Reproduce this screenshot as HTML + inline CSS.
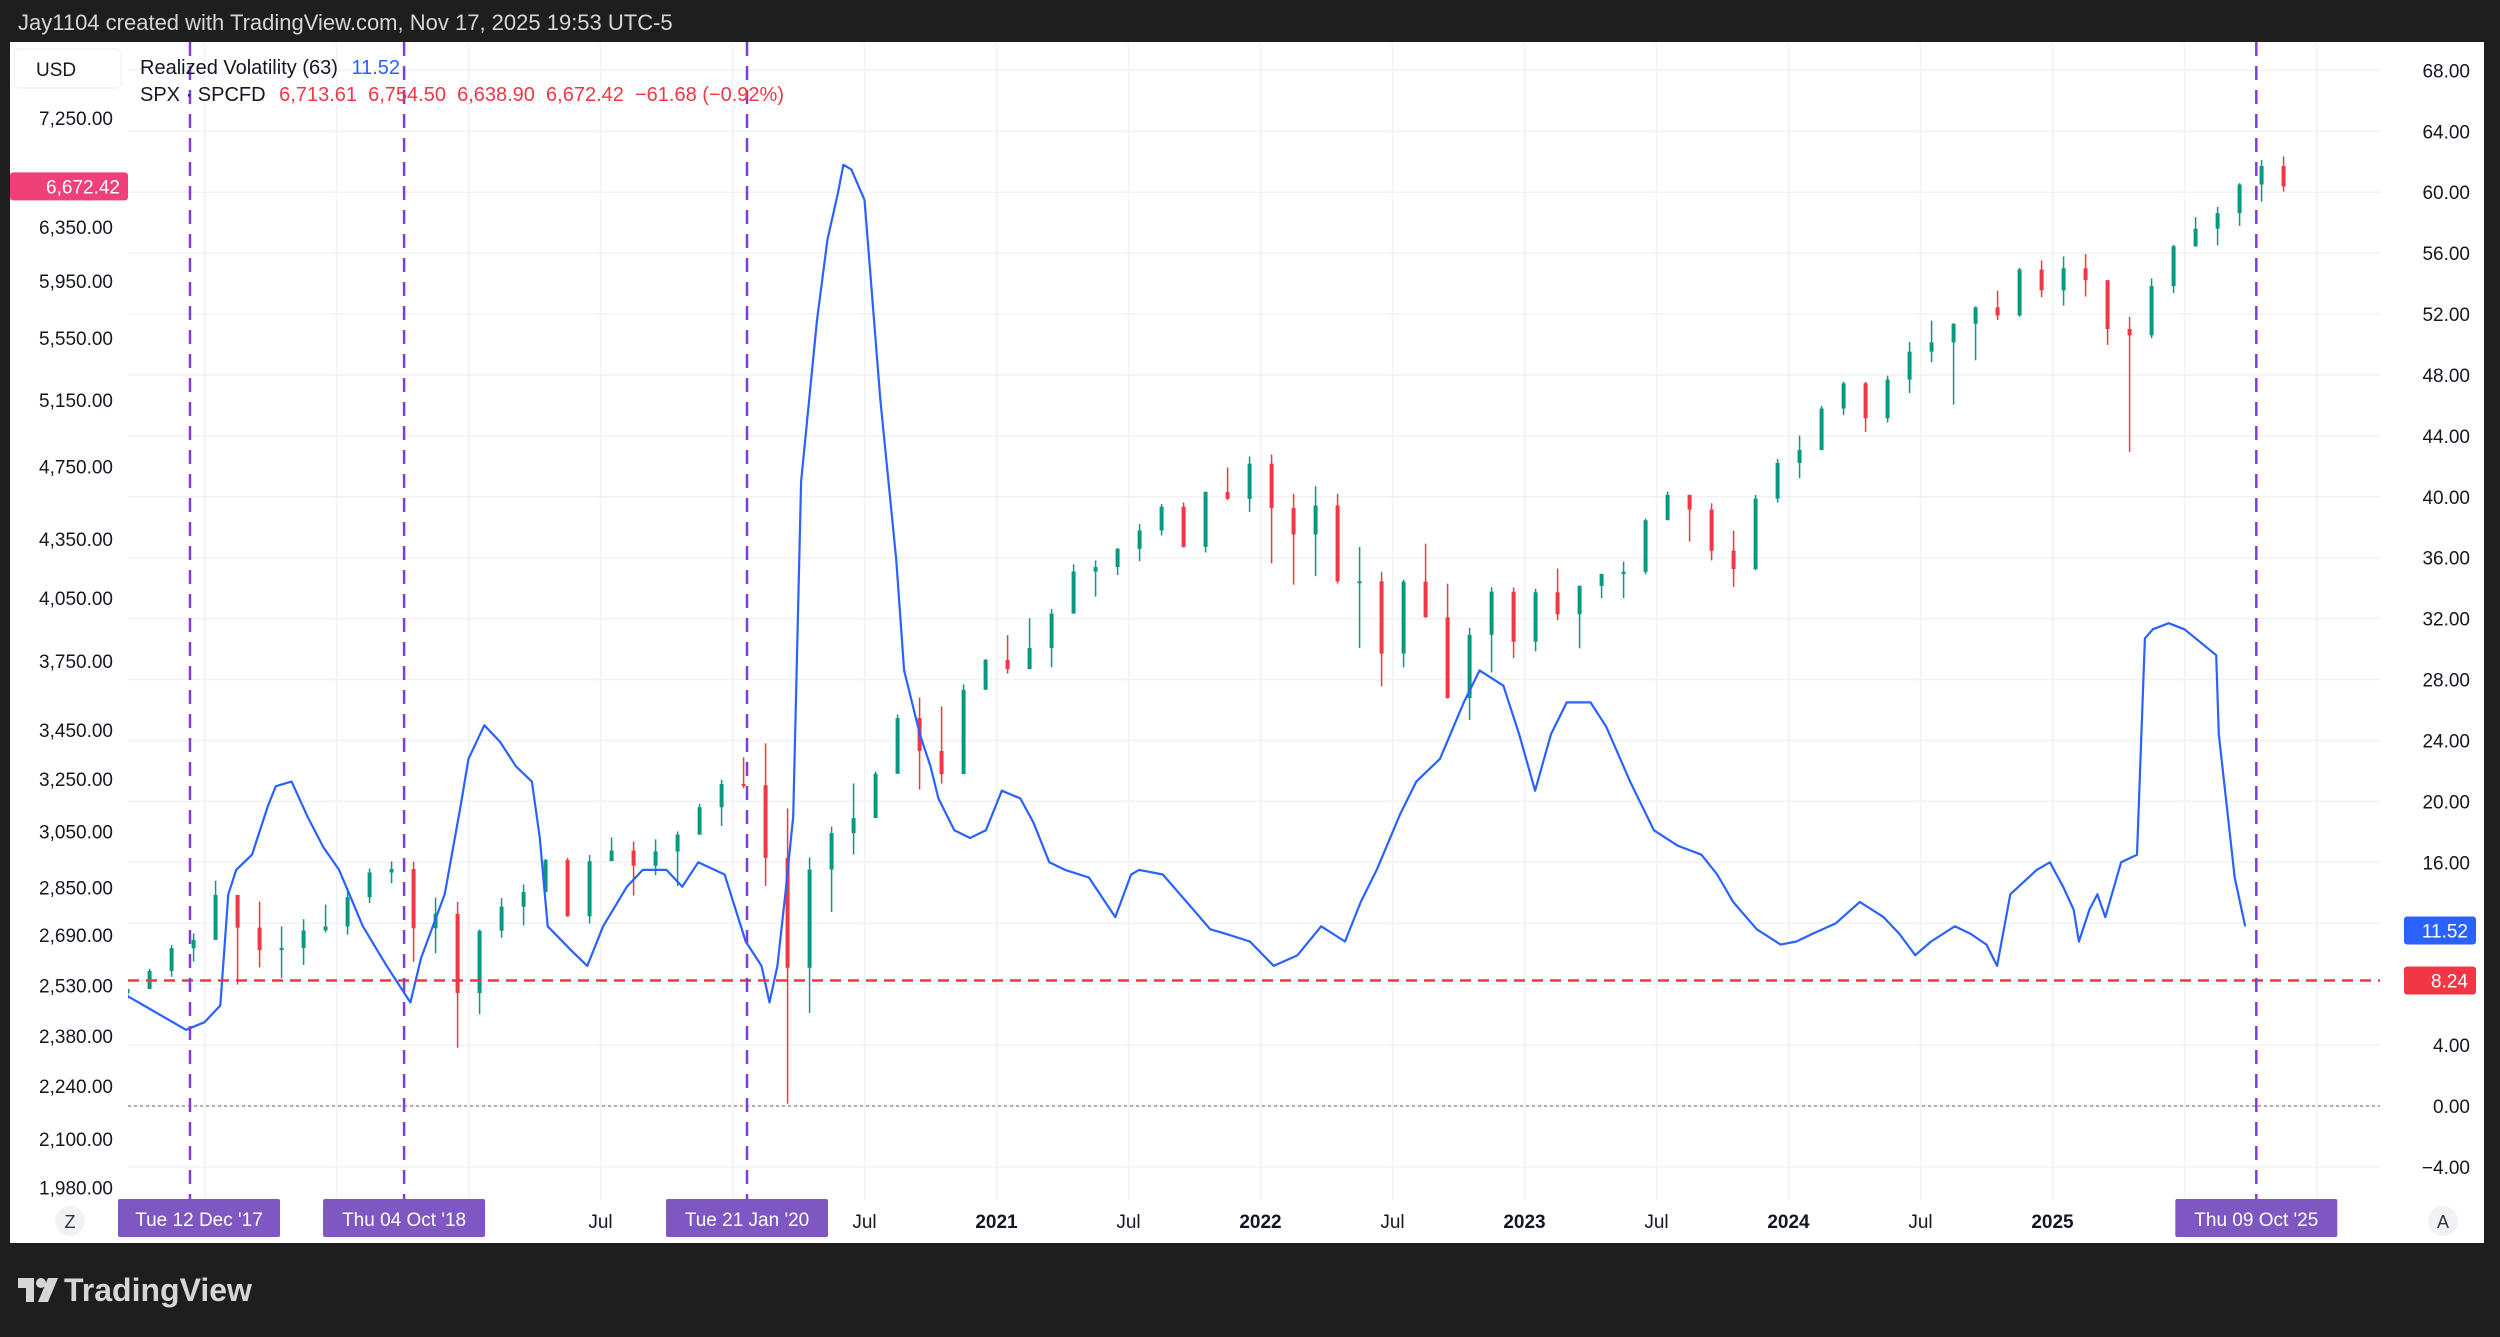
<!DOCTYPE html>
<html><head><meta charset="utf-8"><style>
html,body{margin:0;padding:0;background:#1e1e1e;width:2500px;height:1337px;overflow:hidden;font-family:"Liberation Sans",sans-serif}
svg text{font-family:"Liberation Sans",sans-serif}
</style></head><body>
<svg id="c" width="2500" height="1337" xmlns="http://www.w3.org/2000/svg">
<rect x="0" y="0" width="2500" height="1337" fill="#1e1e1e"/>
<text x="18" y="30" font-size="22" fill="#d6d6d6">Jay1104 created with TradingView.com, Nov 17, 2025 19:53 UTC-5</text>
<rect x="10" y="42" width="2474" height="1201" fill="#ffffff"/>
<g id="grid"></g>
<g id="marks"></g>
<g id="axes"></g>
<rect x="14" y="49" width="107" height="39" rx="5" fill="#fff" stroke="#eee"/>
<text x="36" y="76" font-size="19" fill="#131722">USD</text>
<text x="140" y="74" font-size="20" fill="#131722">Realized Volatility (63) <tspan fill="#2962ff" dx="8">11.52</tspan></text>
<text x="140" y="101" font-size="20" fill="#131722" xml:space="preserve">SPX · SPCFD <tspan fill="#f23645" dx="8">6,713.61  6,754.50  6,638.90  6,672.42  −61.68 (−0.92%)</tspan></text>
<g>
<rect x="18" y="1278" width="16" height="10" fill="#d6d6d6"/><rect x="26" y="1278" width="8" height="24" fill="#d6d6d6"/>
<circle cx="41" cy="1283" r="5" fill="#d6d6d6"/><polygon points="48,1278 58,1278 48,1302 38,1302" fill="#d6d6d6"/>
<text x="64" y="1301" font-size="32" font-weight="bold" fill="#d6d6d6">TradingView</text>
</g>
</svg>
<script>
const spxCloses=[2519,2575,2647,2674,
2824,2714,2641,2648,2705,2718,2816,2902,2914,2712,2760,2507,
2704,2784,2834,2946,2752,2942,2980,2926,2977,3038,3141,3231,
3226,2954,2585,2912,3044,3100,3271,3500,3363,3270,3622,3756,
3714,3811,3973,4181,4204,4298,4395,4523,4308,4605,4567,4766,
4516,4374,4530,4132,4132,3785,4130,3955,3586,3872,4080,3840,
4077,3970,4109,4169,4180,4450,4589,4508,4288,4194,4568,4770,
4846,5096,5254,5036,5278,5460,5522,5648,5762,5705,6032,5882,
6041,5955,5612,5569,5912,6205,6339,6460,6688,6840,6672];
const spxHighs=[2520,2582,2657,2695,
2873,2789,2801,2718,2742,2791,2848,2916,2941,2940,2815,2800,
2708,2813,2860,2950,2954,2964,3028,3013,3021,3050,3154,3248,
3337,3394,3136,2955,3068,3233,3280,3515,3588,3550,3646,3760,
3870,3951,3995,4218,4238,4302,4430,4538,4546,4608,4744,4808,
4819,4595,4637,4594,4308,4178,4140,4325,4120,3905,4102,4101,
4095,4196,4111,4170,4232,4458,4608,4590,4542,4394,4588,4794,
4932,5112,5265,5263,5303,5524,5670,5652,5768,5879,6045,6099,
6129,6147,5852,5695,5968,6215,6428,6509,6699,6890,6920];
const spxLows=[2488,2520,2557,2605,
2682,2533,2586,2553,2594,2698,2691,2796,2864,2604,2631,2346,
2443,2681,2722,2848,2750,2728,2944,2822,2892,2855,3050,3070,
3214,2855,2192,2447,2766,2966,3101,3280,3209,3233,3279,3633,
3694,3725,3723,3980,4056,4164,4234,4368,4305,4279,4561,4495,
4223,4115,4158,4121,3811,3637,3722,3955,3584,3492,3699,3765,
3795,3941,3809,4048,4048,4167,4450,4336,4238,4104,4187,4546,
4682,4844,5057,4953,5011,5192,5391,5120,5403,5674,5696,5833,
5773,5838,5505,4835,5550,5862,6201,6212,6360,6550,6631];
const spxStart=2017.667;
const volDates=[2017.70,2017.79,2017.88,2017.93,2018.0,2018.06,2018.09,2018.12,2018.18,2018.24,2018.27,2018.33,2018.39,2018.45,2018.51,2018.60,2018.69,2018.75,2018.78,2018.82,2018.91,2018.97,2019.00,2019.06,2019.12,2019.18,2019.24,2019.27,2019.30,2019.39,2019.45,2019.51,2019.60,2019.66,2019.75,2019.81,2019.87,2019.97,2020.05,2020.11,2020.14,2020.17,2020.20,2020.23,2020.26,2020.32,2020.36,2020.40,2020.42,2020.45,2020.50,2020.56,2020.62,2020.65,2020.71,2020.75,2020.78,2020.84,2020.90,2020.96,2021.02,2021.09,2021.14,2021.20,2021.26,2021.35,2021.45,2021.51,2021.54,2021.63,2021.72,2021.81,2021.87,2021.96,2022.05,2022.14,2022.23,2022.32,2022.38,2022.44,2022.53,2022.59,2022.68,2022.77,2022.83,2022.92,2022.98,2023.04,2023.10,2023.16,2023.25,2023.31,2023.40,2023.49,2023.58,2023.67,2023.73,2023.79,2023.88,2023.97,2024.03,2024.09,2024.18,2024.27,2024.36,2024.42,2024.48,2024.54,2024.63,2024.69,2024.75,2024.79,2024.84,2024.94,2024.99,2025.04,2025.08,2025.10,2025.14,2025.17,2025.20,2025.26,2025.32,2025.35,2025.38,2025.44,2025.50,2025.62,2025.63,2025.69,2025.73];
const volValues=[7.3,6.4,5.5,5.0,5.5,6.6,13.9,15.5,16.5,19.7,21.0,21.3,19.0,17.0,15.5,11.8,9.2,7.6,6.8,9.7,13.9,19.7,22.8,25.0,23.9,22.3,21.3,17.6,11.8,10.2,9.2,11.8,14.4,15.5,15.5,14.4,16.0,15.2,10.8,9.2,6.8,9.2,13.9,19.0,41.0,51.6,56.9,60.0,61.8,61.5,59.5,46.4,35.9,28.6,24.4,22.3,20.2,18.1,17.6,18.1,20.7,20.2,18.6,16.0,15.5,15.0,12.4,15.2,15.5,15.2,13.4,11.6,11.3,10.8,9.2,9.9,11.8,10.8,13.4,15.5,19.2,21.3,22.8,26.5,28.6,27.6,24.4,20.7,24.4,26.5,26.5,24.9,21.3,18.1,17.1,16.5,15.2,13.4,11.6,10.6,10.8,11.3,12.0,13.4,12.4,11.3,9.9,10.8,11.8,11.3,10.6,9.2,13.9,15.5,16.0,14.4,12.9,10.8,12.9,13.9,12.4,16.0,16.5,30.7,31.3,31.7,31.3,29.6,24.4,15.0,11.8,10.8,9.7,8.5,10.3,11.0,11.52];
const leftTicks=[7250,6350,5950,5550,5150,4750,4350,4050,3750,3450,3250,3050,2850,2690,2530,2380,2240,2100,1980];
const rightTicks=[68,64,60,56,52,48,44,40,36,32,28,24,20,16,12,8,4,0,-4];
const timeTicks=[[2019.5,'Jul'],[2020.5,'Jul'],[2021,'2021'],[2021.5,'Jul'],[2022,'2022'],[2022.5,'Jul'],[2023,'2023'],[2023.5,'Jul'],[2024,'2024'],[2024.5,'Jul'],[2025,'2025']];
const gridTimes=[2018,2018.5,2019,2019.5,2020,2020.5,2021,2021.5,2022,2022.5,2023,2023.5,2024,2024.5,2025,2025.5,2026];
const eventDates=[2017.945,2018.756,2020.055,2025.772];
const eventLabels=["Tue 12 Dec '17","Thu 04 Oct '18","Tue 21 Jan '20","Thu 09 Oct '25"];
const supportLevel=8.24;
const lastVol=11.52, lastPrice=6672.42;

const NS='http://www.w3.org/2000/svg';
const PL=128,PR=2380,PT=42,PB=1199;
const X=t=>996.5+(t-2021)*264;
const YP=p=>118+(Math.log(7250)-Math.log(p))*824;
const YV=v=>1106-v*15.23;
function mk(tag,attrs,parent){const e=document.createElementNS(NS,tag);for(const k in attrs)e.setAttribute(k,attrs[k]);parent.appendChild(e);return e;}
const grid=document.getElementById('grid'),marks=document.getElementById('marks'),axes=document.getElementById('axes');
const svg=document.getElementById('c');
let cp=mk('clipPath',{id:'clip'},svg);mk('rect',{x:PL,y:PT,width:PR-PL,height:PB-PT},cp);
marks.setAttribute('clip-path','url(#clip)');

rightTicks.forEach(v=>{
  const l=mk('line',{x1:PL,x2:PR,y1:YV(v),y2:YV(v),stroke:'#f0f2f5','stroke-width':1.5},grid);
  
  const t=mk('text',{x:2470,y:YV(v)+7,'font-size':19,fill:'#131722','text-anchor':'end'},axes);
  t.textContent=(v<0?'−'+Math.abs(v).toFixed(2):v.toFixed(2));
  
});
gridTimes.forEach(tm=>{
  const l=mk('line',{x1:X(tm),x2:X(tm),y1:PT,y2:PB,stroke:'#f0f2f5','stroke-width':1.5},grid);
  
});
leftTicks.forEach(p=>{
  const t=mk('text',{x:113,y:YP(p)+7,'font-size':19,fill:'#131722','text-anchor':'end'},axes);
  t.textContent=p.toLocaleString('en-US',{minimumFractionDigits:2,maximumFractionDigits:2});
  
});
timeTicks.forEach(([tm,lab])=>{
  const t=mk('text',{x:X(tm),y:1228,'font-size':19,fill:'#131722','text-anchor':'middle','font-weight':/^\d/.test(lab)?'bold':'normal'},axes);
  t.textContent=lab;
  
});
let z=mk('line',{x1:PL,x2:PR,y1:YV(0),y2:YV(0),stroke:'#9598a1','stroke-width':1.5,'stroke-dasharray':'3 3'},marks);

const mw=264/12;
spxCloses.forEach((c,i)=>{
  const o=i>0?spxCloses[i-1]:c*0.995;
  const x=X(spxStart+i/12)+mw/2;
  const col=c>=o?'#089981':'#f23645';
  const w=mk('line',{x1:x,x2:x,y1:YP(spxHighs[i]),y2:YP(spxLows[i]),stroke:col,'stroke-width':1.5},marks);
  
  const y1=YP(Math.max(o,c)),y2=YP(Math.min(o,c));
  const b=mk('rect',{x:x-2,y:y1,width:4,height:Math.max(2,y2-y1),fill:col},marks);
  
});
const pts=volDates.map((d,i)=>X(d).toFixed(1)+','+YV(volValues[i]).toFixed(1)).join(' ');
let vl=mk('polyline',{points:pts,fill:'none',stroke:'#2962ff','stroke-width':2.2,'stroke-linejoin':'round'},marks);

let sl=mk('line',{x1:PL,x2:PR,y1:YV(supportLevel),y2:YV(supportLevel),stroke:'#f23645','stroke-width':2.5,'stroke-dasharray':'11 7'},axes);

eventDates.forEach((d,i)=>{
  const x=X(d);
  const l=mk('line',{x1:x,x2:x,y1:PT,y2:PB,stroke:'#7e3fd4','stroke-width':2.5,'stroke-dasharray':'14 10'},axes);
  
  let bx=x-81; if(bx<PL-10) bx=PL-10;
  const r=mk('rect',{x:bx,y:1199,width:162,height:38,rx:2,fill:'#7e57c2'},axes);
  
  const t=mk('text',{x:bx+81,y:1226,'font-size':19,fill:'#fff','text-anchor':'middle'},axes);
  t.textContent=eventLabels[i];
  
});
function badge(x,y,w,col,txt,name){
  const r=mk('rect',{x:x,y:y-14,width:w,height:28,rx:3,fill:col},axes);
  
  const t=mk('text',{x:x+w-8,y:y+7,'font-size':19,fill:'#fff','text-anchor':'end'},axes);
  t.textContent=txt;
  
}
badge(2404,YV(lastVol),72,'#2962ff',lastVol.toFixed(2),'last-volatility-badge');
badge(2404,YV(supportLevel),72,'#f23645',supportLevel.toFixed(2),'support-level-badge');
badge(10,YP(lastPrice),118,'#f0407a',lastPrice.toLocaleString('en-US',{minimumFractionDigits:2}),'last-price-badge');
[[70,'Z','zoom-button'],[2443,'A','auto-scale-button']].forEach(([x,l,n])=>{
  const c=mk('circle',{cx:x,cy:1221,r:15,fill:'#f0f2f5'},axes);
  
  const t=mk('text',{x:x,y:1228,'font-size':18,fill:'#333','text-anchor':'middle'},axes);
  t.textContent=l;
  
});
</script>
</body></html>
